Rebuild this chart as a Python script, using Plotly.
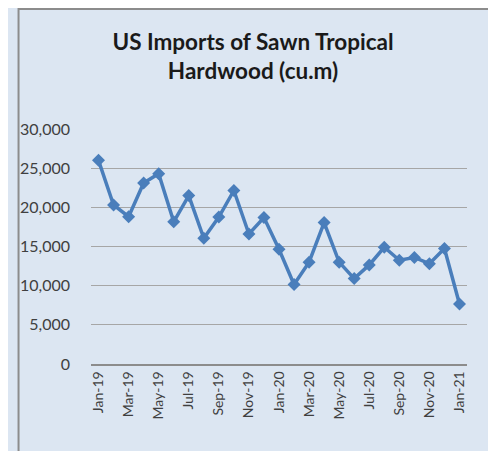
import plotly.graph_objects as go

# Monthly US imports of sawn tropical hardwood, cubic metres
months = ["Jan-19", "Feb-19", "Mar-19", "Apr-19", "May-19", "Jun-19",
          "Jul-19", "Aug-19", "Sep-19", "Oct-19", "Nov-19", "Dec-19",
          "Jan-20", "Feb-20", "Mar-20", "Apr-20", "May-20", "Jun-20",
          "Jul-20", "Aug-20", "Sep-20", "Oct-20", "Nov-20", "Dec-20",
          "Jan-21"]
volume = [26000, 20300, 18800, 23100, 24300, 18150,
          21500, 16050, 18750, 22150, 16600, 18700,
          14650, 10150, 13000, 18050, 13000, 10900,
          12650, 14900, 13250, 13600, 12800, 14750,
          7650]
shown_ticks = months[::2]
y_ticks = [0, 5000, 10000, 15000, 20000, 25000, 30000]

# page has an 8px body margin, so the figure itself is a bit smaller
W, H = 488, 443
L, R, T, B = 75, 29, 121, 87
pw, ph = W - L - R, H - T - B


def px_x(p):
    return (p - L) / pw


def px_y(p):
    return (H - B - p) / ph


fig = go.Figure()
fig.add_trace(go.Scatter(x=months, y=volume, mode="lines+markers",
                         line=dict(color="#4A7EBB", width=3.5),
                         marker=dict(symbol="diamond", size=10, color="#4A7EBB")))

# grey border on the left and top of the chart area
fig.add_shape(type="rect", xref="paper", yref="paper", layer="below",
              x0=px_x(1), x1=px_x(W + 10), y0=px_y(H + 10), y1=px_y(1),
              fillcolor="#DCE6F2", line=dict(color="#8C8C8C", width=2))

fig.update_layout(
    width=W, height=H,
    margin=dict(l=L, r=R, t=T, b=B),
    paper_bgcolor="#DCE6F2", plot_bgcolor="#F2F2F2",
    showlegend=False,
    title=dict(text="<b>US Imports of Sawn Tropical<br>Hardwood (cu.m)</b>",
               x=245 / W, xanchor="center", y=1 - 42 / H, yanchor="top",
               font=dict(family="Lato", size=22.5, color="#1a1a1a")),
    font=dict(family="Lato", color="#404040"),
)
fig.update_xaxes(type="category", tickmode="array", tickvals=shown_ticks,
                 ticktext=shown_ticks, tickangle=-90, showgrid=False,
                 tickfont=dict(size=14), showline=True, linecolor="#8C8C8C",
                 linewidth=1.5, ticks="", range=[-0.5, len(months) - 0.5])
fig.update_yaxes(range=[0, 30000], tickvals=y_ticks, tickformat=",d",
                 gridcolor="#A6A6A6", gridwidth=1, zeroline=False,
                 tickfont=dict(size=16), ticks="", ticklabelstandoff=20)

fig.write_html("out.html")
